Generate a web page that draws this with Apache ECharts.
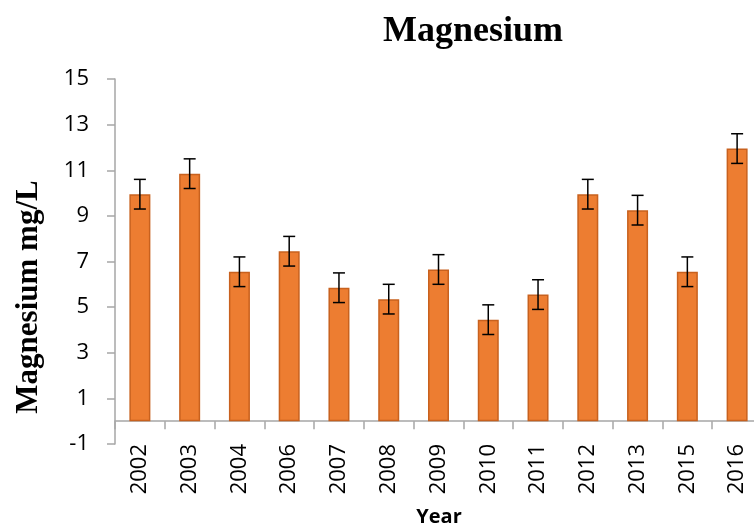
<!DOCTYPE html>
<html>
<head>
<meta charset="utf-8">
<script src="https://cdn.jsdelivr.net/npm/echarts@6/dist/echarts.min.js"></script>
<style>
html, body { margin: 0; padding: 0; background: #fff; }
#chart { width: 754px; height: 531px; }
</style>
</head>
<body>
<div id="chart"></div>
<script>
var years = ["2002", "2003", "2004", "2006", "2007", "2008", "2009", "2010", "2011", "2012", "2013", "2015", "2016"];
var magnesium = [9.95, 10.85, 6.55, 7.45, 5.85, 5.35, 6.65, 4.45, 5.55, 9.95, 9.25, 6.55, 11.95];
var errors = [0.65, 0.65, 0.65, 0.65, 0.65, 0.65, 0.65, 0.65, 0.65, 0.65, 0.65, 0.65, 0.65];
var yTicks = [-1, 1, 3, 5, 7, 9, 11, 13, 15];

var errData = [];
for (var i = 0; i < years.length; i++) {
    errData.push([i, magnesium[i] - errors[i], magnesium[i] + errors[i]]);
}

var chart = echarts.init(document.getElementById("chart"));
chart.setOption({
    animation: false,
    title: {
        text: "Magnesium",
        left: 378,
        top: 9,
        textStyle: { fontFamily: "Liberation Serif", fontWeight: "bold", fontSize: 36, color: "#000" }
    },
    grid: { left: 115, right: -8, top: 79, bottom: 87, outerBoundsMode: "none", containLabel: false },
    xAxis: {
        type: "category",
        data: years,
        axisLine: { onZero: true, lineStyle: { color: "#a6a6a6", width: 1.5 } },
        axisTick: { show: true, length: 8, lineStyle: { color: "#a6a6a6", width: 1.5 } },
        axisLabel: { rotate: 90, margin: 0, fontFamily: "Open Sans", fontSize: 22, color: "#000" }
    },
    yAxis: {
        type: "value",
        min: yTicks[0],
        max: yTicks[yTicks.length - 1],
        interval: 2,
        splitLine: { show: false },
        axisLine: { show: true, lineStyle: { color: "#a6a6a6", width: 1.5 } },
        axisTick: { show: true, length: 8, lineStyle: { color: "#a6a6a6", width: 1.5 } },
        axisLabel: { margin: 26, fontFamily: "Open Sans", fontSize: 22, color: "#000" }
    },
    graphic: [{
        type: "text",
        x: 29,
        y: 297,
        rotation: Math.PI / 2,
        style: {
            text: "Magnesium mg/L",
            font: "bold 31px 'Liberation Serif'",
            fill: "#000",
            align: "center",
            verticalAlign: "middle"
        }
    }, {
        type: "text",
        x: 439,
        y: 517,
        style: {
            text: "Year",
            font: "bold 20px 'Open Sans'",
            fill: "#000",
            align: "center",
            verticalAlign: "middle"
        }
    }],
    series: [{
        type: "bar",
        data: magnesium,
        barWidth: 21,
        itemStyle: { color: "#ED7D31", borderColor: "#C8611E", borderWidth: 1.5 }
    }, {
        type: "custom",
        data: errData,
        z: 10,
        renderItem: function (params, api) {
            var top = api.coord([api.value(0), api.value(2)]);
            var bottom = api.coord([api.value(0), api.value(1)]);
            var half = 6;
            var style = { stroke: "#000", lineWidth: 1.5 };
            return {
                type: "group",
                children: [
                    { type: "line", shape: { x1: top[0], y1: top[1], x2: bottom[0], y2: bottom[1] }, style: style },
                    { type: "line", shape: { x1: top[0] - half, y1: top[1], x2: top[0] + half, y2: top[1] }, style: style },
                    { type: "line", shape: { x1: bottom[0] - half, y1: bottom[1], x2: bottom[0] + half, y2: bottom[1] }, style: style }
                ]
            };
        }
    }]
});
</script>
</body>
</html>
